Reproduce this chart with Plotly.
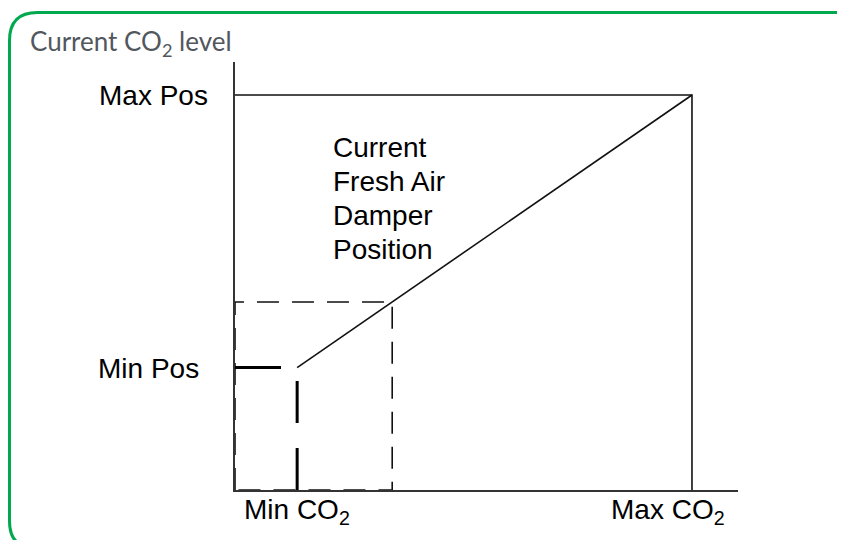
import plotly.graph_objects as go

# Schematic values (normalised units)
co2_labels = ["Min CO<sub>2</sub>", "Max CO<sub>2</sub>"]
pos_labels = ["Max Pos", "Min Pos"]
min_co2 = 13.6
current_co2 = 34.4
max_co2 = 100
min_pos = 31
current_pos = 47.6
max_pos = 100
x_axis_end = 110.07
y_axis_end = 108.35
curve_label_lines = ["Current", "Fresh Air", "Damper", "Position"]
title_text = "Current CO<sub>2</sub> level"

OFF = 8  # page body margin in the browser

fig = go.Figure()

# Dashed rectangle for current position
fig.add_trace(go.Scatter(
    x=[0, 0, current_co2, current_co2, 0],
    y=[0, current_pos, current_pos, 0, 0],
    mode="lines", line=dict(color="#111111", width=1.6, dash="22px,13px"),
    cliponaxis=False, hoverinfo="skip", showlegend=False))

# Max position box
fig.add_trace(go.Scatter(
    x=[0, max_co2, max_co2],
    y=[max_pos, max_pos, 0],
    mode="lines", line=dict(color="#111111", width=1.6),
    cliponaxis=False, hoverinfo="skip", showlegend=False))

# Diagonal damper line
fig.add_trace(go.Scatter(
    x=[min_co2, max_co2],
    y=[min_pos, max_pos],
    mode="lines", line=dict(color="#111111", width=1.6),
    cliponaxis=False, hoverinfo="skip", showlegend=False))

# Thick min position dashed lines
fig.add_trace(go.Scatter(
    x=[0, min_co2],
    y=[min_pos, min_pos],
    mode="lines", line=dict(color="#000000", width=3, dash="46px,25px"),
    cliponaxis=False, hoverinfo="skip", showlegend=False))
fig.add_trace(go.Scatter(
    x=[min_co2, min_co2],
    y=[0, min_pos],
    mode="lines", line=dict(color="#000000", width=3, dash="42px,25px"),
    cliponaxis=False, hoverinfo="skip", showlegend=False))

label_font = dict(family="Liberation Sans, Arial, sans-serif", size=28, color="#000000")

# Axis labels as annotations
fig.add_annotation(x=0, y=max_pos, text=pos_labels[0], showarrow=False,
                   xanchor="right", yanchor="middle", xshift=-25, yshift=-1, font=label_font)
fig.add_annotation(x=0, y=min_pos, text=pos_labels[1], showarrow=False,
                   xanchor="right", yanchor="middle", xshift=-34, yshift=-1, font=label_font)
fig.add_annotation(x=min_co2, y=0, text=co2_labels[0], showarrow=False,
                   xanchor="center", yanchor="top", yshift=-2, font=label_font)
fig.add_annotation(x=max_co2, y=0, text=co2_labels[1], showarrow=False,
                   xanchor="center", yanchor="top", xshift=-24, yshift=-2, font=label_font)
for i, line_text in enumerate(curve_label_lines):
    fig.add_annotation(x=21.0, y=86.6, text=line_text, showarrow=False, align="left",
                       xanchor="left", yanchor="middle", yshift=-34 * i, font=label_font)

# Rounded green frame (paper coordinates, from screen pixels)
def px(xp):
    return (xp - 235) / 503.0

def py(yp):
    return (490 - yp) / 428.0

L, T, R, B, r = 9.5, 12.5, 862, 549, 28
path = (f"M {px(L+r)},{py(T)} L {px(R-r)},{py(T)} Q {px(R)},{py(T)} {px(R)},{py(T+r)} "
        f"L {px(R)},{py(B-r)} Q {px(R)},{py(B)} {px(R-r)},{py(B)} "
        f"L {px(L+r)},{py(B)} Q {px(L)},{py(B)} {px(L)},{py(B-r)} "
        f"L {px(L)},{py(T+r)} Q {px(L)},{py(T)} {px(L+r)},{py(T)} Z")
fig.add_shape(type="path", path=path, xref="paper", yref="paper",
              line=dict(color="#00A94F", width=3), layer="below")

fig.update_layout(
    width=845, height=540,
    margin=dict(l=235 - OFF, r=845 - (738 - OFF), t=62 - OFF, b=540 - (490 - OFF)),
    paper_bgcolor="white", plot_bgcolor="white",
    title=dict(text=title_text, x=(30 - OFF) / 845, xref="container", xanchor="left",
               y=1 - (42 - OFF) / 540, yref="container", yanchor="middle",
               font=dict(family="Lato, sans-serif", size=26, color="#51575d")),
    xaxis=dict(range=[0, x_axis_end], showline=True, linecolor="#333333", linewidth=2,
               showgrid=False, zeroline=False, showticklabels=False, ticks="", fixedrange=True),
    yaxis=dict(range=[0, y_axis_end], showline=True, linecolor="#333333", linewidth=2,
               showgrid=False, zeroline=False, showticklabels=False, ticks="", fixedrange=True),
)

fig.write_html("out.html")
